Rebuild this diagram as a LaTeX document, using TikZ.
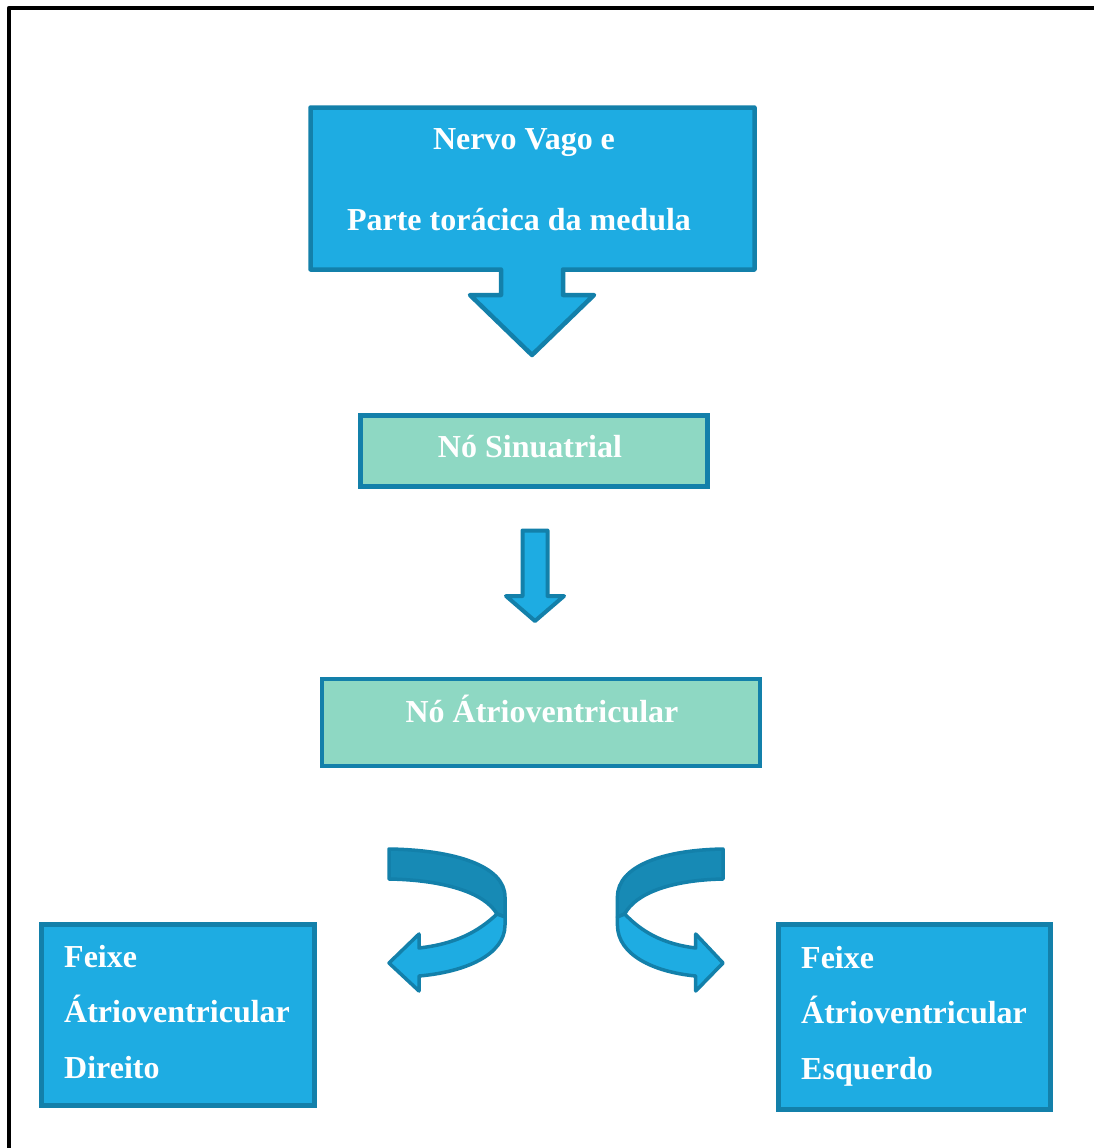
\documentclass[tikz,border=0pt]{standalone}
\usepackage{fontspec}
\setmainfont{Liberation Serif}
\definecolor{fillblue}{HTML}{1EACE2}
\definecolor{edgeblue}{HTML}{1380AA}
\definecolor{darkribbon}{HTML}{178AB5}
\definecolor{mint}{HTML}{8ED8C3}
\tikzset{
  boxbase/.style={draw=edgeblue, line width=4.5pt, inner sep=0pt, outer sep=0pt, rectangle},
  bluebox/.style={boxbase, fill=fillblue},
  mintbox/.style={boxbase, fill=mint},
  shapeline/.style={draw=edgeblue, line width=4.5pt, line join=round},
  ribbonline/.style={draw=edgeblue, line width=3.5pt, line join=round},
  label/.style={text=white, font=\bfseries\fontsize{32}{38}\selectfont, inner sep=0pt, anchor=base},
  leftlabel/.style={label, anchor=base west},
}
\newcommand\ribbonarrow{%
  % dark back band
  \path[ribbonline, fill=darkribbon] (0,849) .. controls (66,850) and (116,866) .. (116,897)
     -- (116,917) -- (108,914) .. controls (96,893) and (56,880) .. (0,879) -- cycle;
  % light front band with arrow head
  \path[ribbonline, fill=fillblue] (108,914) -- (116,917) -- (116,925)
     .. controls (116,955) and (76,972) .. (30,976) -- (30,991) -- (0,963) -- (30,934) -- (30,948)
     .. controls (66,944) and (89,932) .. (108,914) -- cycle;
}
\begin{document}
\begin{tikzpicture}[x=1pt, y=-1pt]
\useasboundingbox (0,0) rectangle (1094,1148);
\fill[white] (0,0) rectangle (1094,1148);
% outer frame (left and top edges visible)
\draw[line width=4.5pt, line join=round] (9,1148) -- (9,8) -- (1094,8);

% top callout box with down arrow
\path[shapeline, fill=fillblue] (310.5,107.5) -- (754.5,107.5) -- (754.5,269.5) -- (563,269.5)
   -- (563,295) -- (594,295) -- (532,355) -- (470,295) -- (501,295) -- (501,269.5)
   -- (310.5,269.5) -- cycle;
\node[label] (t1) at (524,149) {Nervo Vago e};
\node[label] (t2) at (519,230) {Parte torácica da medula};

% No Sinuatrial
\node[mintbox, minimum width=347pt, minimum height=71pt] (sa) at (534,451) {};
\node[label] (satext) at (530,457) {Nó Sinuatrial};

% small down arrow
\path[shapeline, line width=4pt, fill=fillblue] (522.5,530.5) -- (547.5,530.5) -- (547.5,596)
   -- (564,596) -- (535,621) -- (506,596) -- (522.5,596) -- cycle;

% No Atrioventricular
\node[mintbox, minimum width=438pt, minimum height=87pt] (av) at (541,722.5) {};
\node[label] (avtext) at (542,722) {Nó Átrioventricular};

% curved ribbon arrows
\begin{scope}[shift={(389,0)}]
  \ribbonarrow
\end{scope}
\begin{scope}[shift={(723,0)}, xscale=-0.91]
  \ribbonarrow
\end{scope}

% bottom boxes
\node[bluebox, minimum width=273pt, minimum height=181pt] (fd) at (178,1015) {};
\node[leftlabel] (fd1) at (64,967) {Feixe};
\node[leftlabel] (fd2) at (64,1022) {Átrioventricular};
\node[leftlabel] (fd3) at (64,1078) {Direito};

\node[bluebox, minimum width=272pt, minimum height=185pt] (fe) at (914.5,1017) {};
\node[leftlabel] (fe1) at (801,968) {Feixe};
\node[leftlabel] (fe2) at (801,1023) {Átrioventricular};
\node[leftlabel] (fe3) at (801,1079) {Esquerdo};
\end{tikzpicture}
\end{document}
